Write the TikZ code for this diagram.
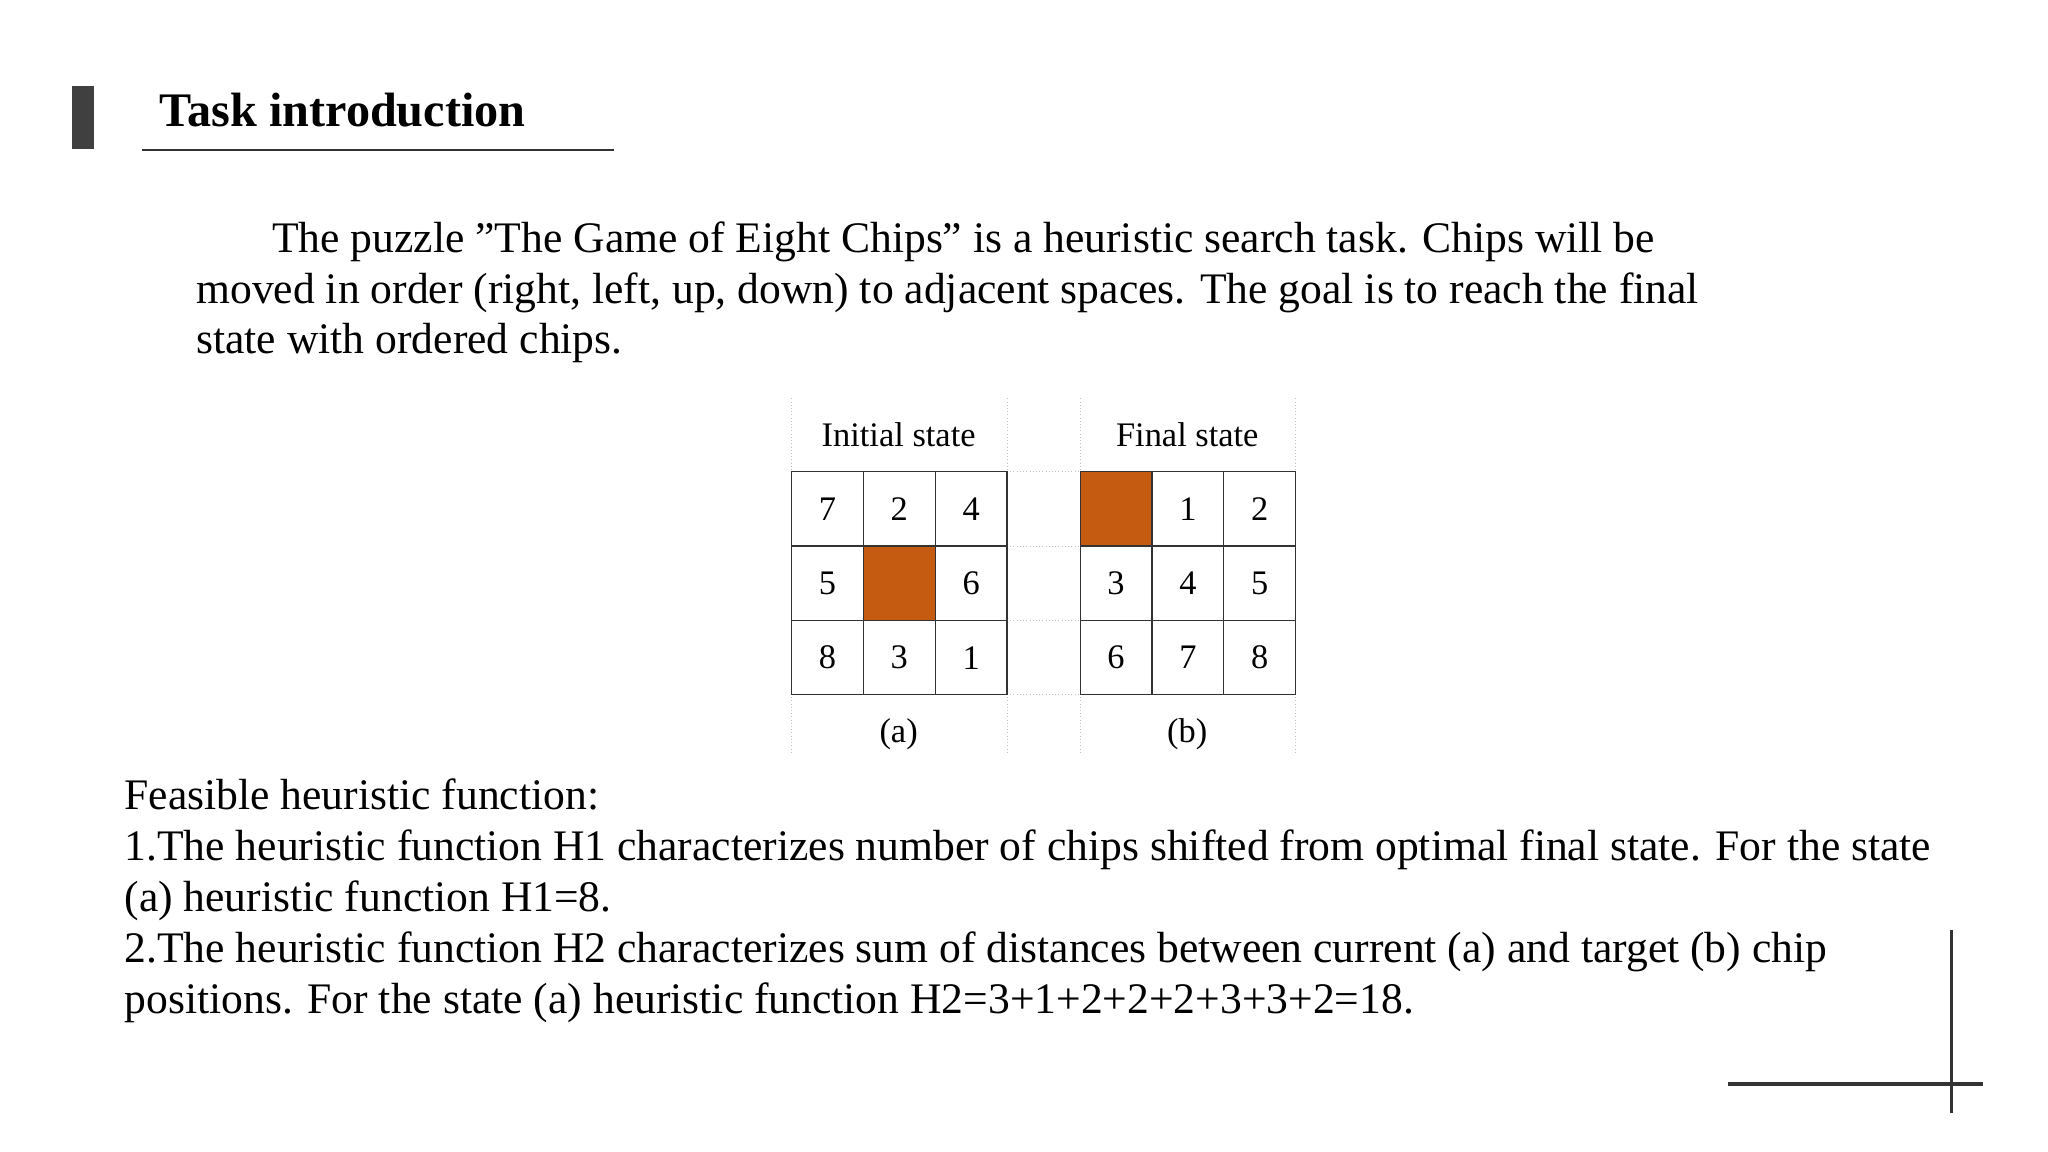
\documentclass[tikz,border=0pt]{standalone}
\usepackage{fontspec}
\setmainfont{Liberation Serif}
\begin{document}
\begin{tikzpicture}[x=0.02cm,y=-0.02cm,
  txt/.style={anchor=base west,inner sep=0pt,font=\fontsize{19}{23}\selectfont},
  cell/.style={draw=black!80,line width=0.5pt,minimum width=1.1cm,minimum height=1.14cm,inner sep=0pt,font=\fontsize{15}{18}\selectfont},
  lab/.style={inner sep=0pt,font=\fontsize{15}{18}\selectfont},
  faint/.style={draw=black!25,densely dotted,line width=0.4pt}]
\definecolor{chip}{HTML}{C55A11}
\useasboundingbox (0,0) rectangle (1568,882);
\fill[black!75] (55,66) rectangle (72,114);
\node[anchor=base west,inner sep=0pt,font=\fontsize{21}{25}\selectfont\bfseries] (title) at (122,97) {Task introduction};
\draw[line width=1pt,black!80] (109,115) -- (470,115);
\node[txt] (p1) at (208,193) {The puzzle "The Game of Eight Chips" is a heuristic search task. Chips will be};
\node[txt] (p2) at (150,232) {moved in order (right, left, up, down) to adjacent spaces. The goal is to reach the final};
\node[txt] (p3) at (150,271) {state with ordered chips.};
% frame lines
\foreach \x in {606,771,827,992} \draw[faint] (\x,305) -- (\x,577);
\foreach \y in {361,418,475,532} \draw[faint] (771,\y) -- (827,\y);
\node[lab] (la) at (688,333) {Initial state};
\node[lab] (lb) at (909,333) {Final state};
\node[lab] (ca) at (688,562) {(a)};
\node[lab] (cb) at (909,562) {(b)};
% grid a
\foreach \v [count=\i from 0] in {7,2,4,5,,6,8,3,1} {
  \pgfmathtruncatemacro\c{mod(\i,3)}\pgfmathtruncatemacro\r{div(\i,3)}
  \node[cell] (a\i) at (633.5+55*\c,389.5+57*\r) {\v};}
\fill[chip] (661,418) rectangle (716,475);
\draw[black!80,line width=0.5pt] (661,418) rectangle (716,475);
\foreach \v [count=\i from 0] in {,1,2,3,4,5,6,7,8} {
  \pgfmathtruncatemacro\c{mod(\i,3)}\pgfmathtruncatemacro\r{div(\i,3)}
  \node[cell] (b\i) at (854.5+55*\c,389.5+57*\r) {\v};}
\fill[chip] (827,361) rectangle (882,418);
\draw[black!80,line width=0.5pt] (827,361) rectangle (882,418);
\node[txt] (q1) at (95,620) {Feasible heuristic function:};
\node[txt] (q2) at (95,659) {1.The heuristic function H1 characterizes number of chips shifted from optimal final state. For the state};
\node[txt] (q3) at (95,698) {(a) heuristic function H1=8.};
\node[txt] (q4) at (95,737) {2.The heuristic function H2 characterizes sum of distances between current (a) and target (b) chip};
\node[txt] (q5) at (95,776) {positions. For the state (a) heuristic function H2=3+1+2+2+2+3+3+2=18.};
\draw[line width=1.5pt,black!80] (1494,712) -- (1494,852);
\draw[line width=1.5pt,black!80] (1323,830) -- (1518,830);
\end{tikzpicture}
\end{document}
